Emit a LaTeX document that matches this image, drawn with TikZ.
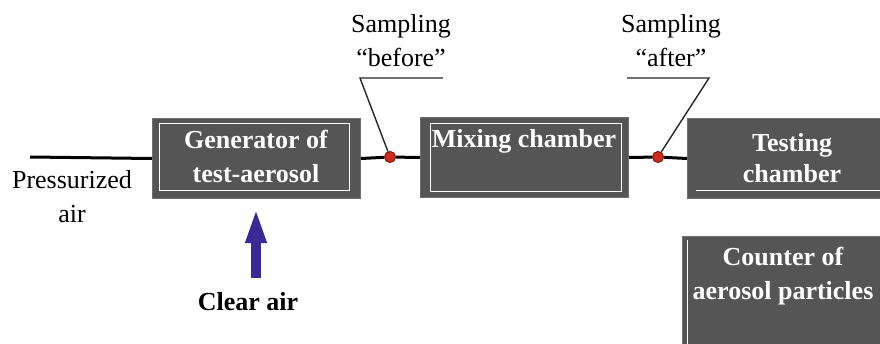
\documentclass[tikz,border=0pt]{standalone}
\usepackage{fontspec}
\setmainfont{Liberation Serif}
\usetikzlibrary{arrows.meta}
\definecolor{boxgray}{HTML}{555555}
\definecolor{boxedge}{HTML}{707070}
\definecolor{dotred}{HTML}{D02A20}
\definecolor{dotedge}{HTML}{7A1A12}
\definecolor{airblue}{HTML}{3A2896}
\begin{document}
\begin{tikzpicture}[x=1pt,y=-1pt,
  unitbox/.style={draw=boxedge, line width=1pt, fill=boxgray,
    minimum width=208pt, minimum height=80pt, inner sep=0pt, anchor=north west},
  boxtext/.style={text=white, font=\fontsize{26}{34}\selectfont\bfseries,
    align=center, inner sep=0pt},
  plaintext/.style={font=\fontsize{26}{34}\selectfont, align=center, inner sep=0pt},
  flow/.style={line width=3pt, black},
  leader/.style={line width=1.4pt, black!85},
  tap/.style={circle, fill=dotred, draw=dotedge, line width=0.8pt,
    minimum size=11pt, inner sep=0pt},
  innerframe/.style={draw=white, line width=0.9pt}]

\useasboundingbox (0,0) rectangle (880,343);
\clip (0,0) rectangle (880,343);

% units of the set-up
\node[unitbox] (gen) at (152,118) {};
\node[unitbox] (mix) at (420,117) {};
\node[unitbox] (test) at (687,118) {};
\node[unitbox, minimum height=130pt] (count) at (682,236) {};

% thin white frames inside the units
\draw[innerframe] (159,123) rectangle (349,190);
\draw[innerframe] (430,123) rectangle (621,191);
\draw[innerframe] (696,190) -- (890,190);
\draw[innerframe] (687,240) -- (687,360);

% unit captions
\node[boxtext] (gentext) at (256,156) {Generator of\\test-aerosol};
\node[boxtext, anchor=base] (mixtext) at (524,147) {Mixing chamber};
\node[boxtext] (testtext) at (792,158) {Testing\\[-3pt]chamber};
\node[boxtext] (counttext) at (783,276) {Counter of\\aerosol particles};

% sampling points
\node[tap] (db) at (390,157) {};
\node[tap] (da) at (658,157) {};

% main air line
\coordinate (src) at (30,157);
\draw[flow] (src) -- (gen.west);
\draw[flow] (gen.east) -- (db) -- (mix.west);
\draw[flow] (mix.east) -- (da) -- (test.west);
\node[tap] at (db) {};
\node[tap] at (da) {};

% sampling labels with leaders
\node[plaintext] (sbtext) at (401,41) {Sampling\\“before”};
\coordinate (sb1) at (360,78);
\coordinate (sb2) at (443,78);
\draw[leader] (db) -- (sb1) -- (sb2);

\node[plaintext] (satext) at (671,41) {Sampling\\“after”};
\coordinate (sa1) at (627,78);
\coordinate (sa2) at (709,78);
\draw[leader] (sa1) -- (sa2) -- (da);

% inlet labels
\node[plaintext] (ptext) at (72,197) {Pressurized\\air};

\coordinate (clearfrom) at (256,278);
\coordinate (clearto) at (256,208);
\draw[airblue, line width=10pt, -{Triangle[width=19pt,length=35pt]}] (clearfrom) -- (clearto);
\node[plaintext, font=\fontsize{26}{34}\selectfont\bfseries, anchor=base] (ctext) at (248,310) {Clear air};
\end{tikzpicture}
\end{document}
